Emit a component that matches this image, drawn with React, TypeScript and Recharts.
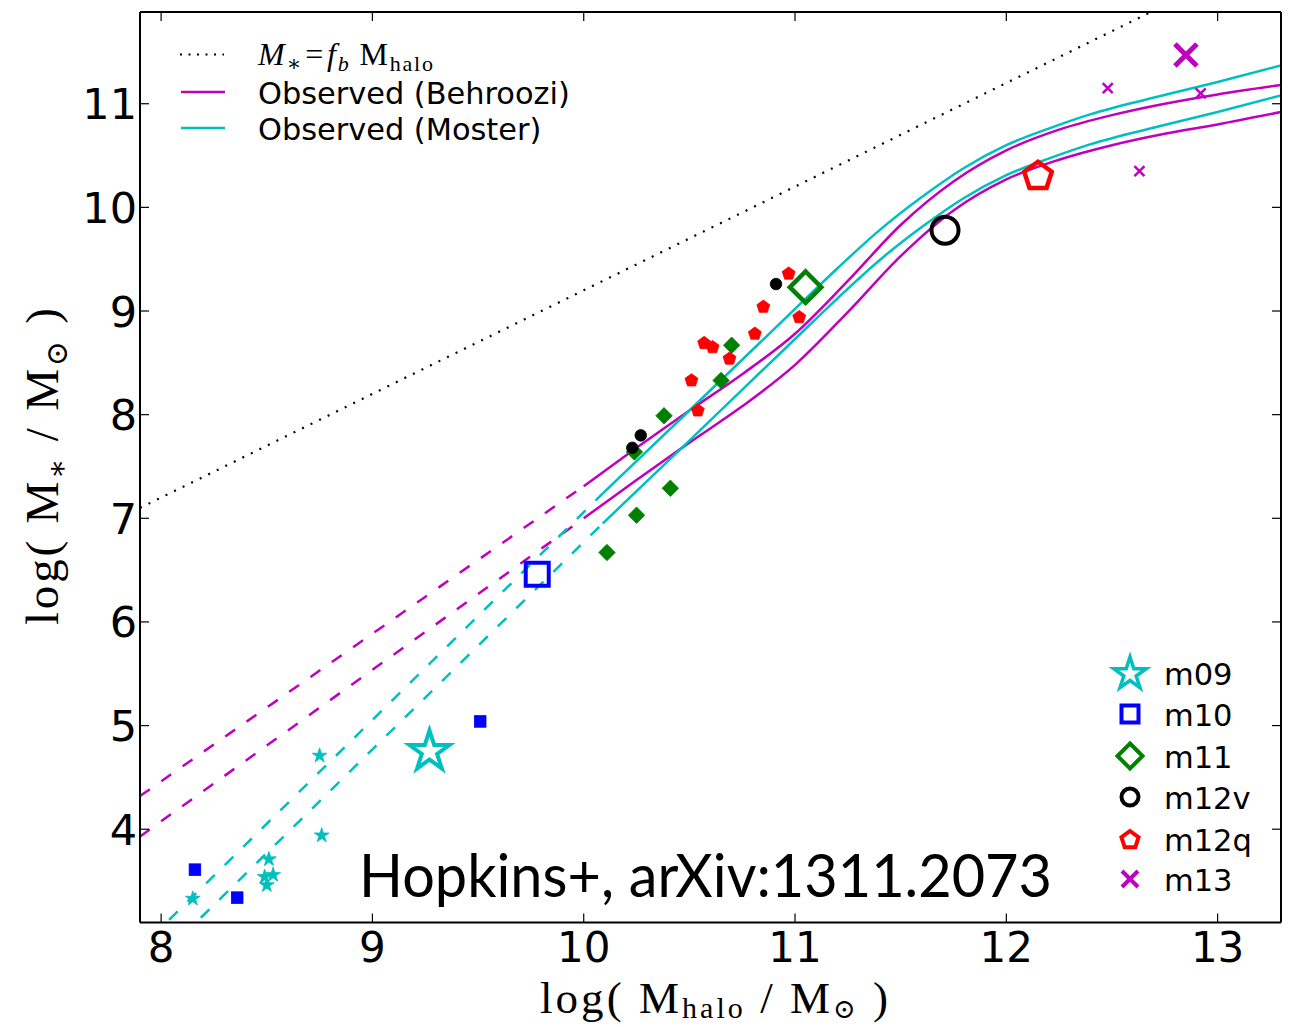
import React from 'react';
import { ComposedChart, Line, Scatter, XAxis, YAxis } from 'recharts';

// ---------- data ----------
const X_DOMAIN: [number, number] = [7.9, 13.3];
const Y_DOMAIN: [number, number] = [3.1, 11.885];
const X_TICKS = [8, 9, 10, 11, 12, 13];
const Y_TICKS = [4, 5, 6, 7, 8, 9, 10, 11];

const baryonLine = [
  { x: 7.9, y: 7.1 },
  { x: 12.7, y: 11.9 },
];

const behrooziUpperDashed = [
  { x: 7.9, y: 4.32 },
  { x: 10.0, y: 7.31 },
];
const behrooziLowerDashed = [
  { x: 7.9, y: 3.93 },
  { x: 10.0, y: 7.0 },
];
const behrooziUpper = [
  { x: 10.0, y: 7.31 }, { x: 10.25, y: 7.68 }, { x: 10.5, y: 8.04 }, { x: 10.75, y: 8.39 },
  { x: 11.0, y: 8.78 }, { x: 11.25, y: 9.29 }, { x: 11.5, y: 9.83 }, { x: 11.75, y: 10.25 },
  { x: 12.0, y: 10.55 }, { x: 12.25, y: 10.75 }, { x: 12.5, y: 10.89 }, { x: 12.75, y: 11.0 },
  { x: 13.0, y: 11.09 }, { x: 13.3, y: 11.18 },
];
const behrooziLower = [
  { x: 10.0, y: 7.0 }, { x: 10.25, y: 7.37 }, { x: 10.5, y: 7.73 }, { x: 10.75, y: 8.08 },
  { x: 11.0, y: 8.48 }, { x: 11.25, y: 8.99 }, { x: 11.5, y: 9.53 }, { x: 11.75, y: 9.97 },
  { x: 12.0, y: 10.27 }, { x: 12.25, y: 10.46 }, { x: 12.5, y: 10.6 }, { x: 12.75, y: 10.71 },
  { x: 13.0, y: 10.8 }, { x: 13.3, y: 10.92 },
];

const mosterUpperDashed = [
  { x: 7.95, y: 2.95 },
  { x: 10.09, y: 7.24 },
];
const mosterLowerDashed = [
  { x: 8.1, y: 2.97 },
  { x: 10.09, y: 6.95 },
];
const mosterUpper = [
  { x: 10.09, y: 7.24 }, { x: 10.5, y: 8.04 }, { x: 11.0, y: 9.02 }, { x: 11.2, y: 9.41 },
  { x: 11.4, y: 9.78 }, { x: 11.6, y: 10.1 }, { x: 11.8, y: 10.38 }, { x: 12.0, y: 10.6 },
  { x: 12.2, y: 10.76 }, { x: 12.4, y: 10.9 }, { x: 12.7, y: 11.06 }, { x: 13.0, y: 11.21 },
  { x: 13.3, y: 11.37 },
];
const mosterLower = [
  { x: 10.09, y: 6.95 }, { x: 10.5, y: 7.75 }, { x: 11.0, y: 8.73 }, { x: 11.2, y: 9.12 },
  { x: 11.4, y: 9.49 }, { x: 11.6, y: 9.81 }, { x: 11.8, y: 10.09 }, { x: 12.0, y: 10.31 },
  { x: 12.2, y: 10.47 }, { x: 12.4, y: 10.61 }, { x: 12.7, y: 10.77 }, { x: 13.0, y: 10.92 },
  { x: 13.3, y: 11.08 },
];

const m09Small = [
  { x: 8.75, y: 4.71 }, { x: 8.76, y: 3.94 }, { x: 8.51, y: 3.71 }, { x: 8.53, y: 3.56 },
  { x: 8.49, y: 3.54 }, { x: 8.5, y: 3.46 }, { x: 8.15, y: 3.33 },
];
const m10Small = [
  { x: 8.16, y: 3.61 }, { x: 8.36, y: 3.34 }, { x: 9.51, y: 5.04 },
];
const m11Small = [
  { x: 10.11, y: 6.67 }, { x: 10.25, y: 7.03 }, { x: 10.41, y: 7.29 }, { x: 10.24, y: 7.64 },
  { x: 10.38, y: 7.99 }, { x: 10.65, y: 8.33 }, { x: 10.7, y: 8.67 },
];
const m12vSmall = [
  { x: 10.23, y: 7.68 }, { x: 10.27, y: 7.8 }, { x: 10.91, y: 9.26 },
];
const m12qSmall = [
  { x: 10.97, y: 9.36 }, { x: 10.85, y: 9.04 }, { x: 11.02, y: 8.94 }, { x: 10.81, y: 8.78 },
  { x: 10.57, y: 8.69 }, { x: 10.61, y: 8.65 }, { x: 10.69, y: 8.54 }, { x: 10.51, y: 8.33 },
  { x: 10.54, y: 8.04 },
];
const m13Small = [
  { x: 12.48, y: 11.15 }, { x: 12.92, y: 11.1 }, { x: 12.63, y: 10.35 },
];

const m09Main = [{ x: 9.27, y: 4.75 }];
const m10Main = [{ x: 9.78, y: 6.46 }];
const m11Main = [{ x: 11.05, y: 9.23 }];
const m12vMain = [{ x: 11.71, y: 9.78 }];
const m12qMain = [{ x: 12.15, y: 10.3 }];
const m13Main = [{ x: 12.85, y: 11.47 }];

const SIM_LABELS = ['m09', 'm10', 'm11', 'm12v', 'm12q', 'm13'];
const LINE_LABELS = ['Observed (Behroozi)', 'Observed (Moster)'];
const TITLE = 'Hopkins+, arXiv:1311.2073';

// ---------- style ----------
const MAG = '#bf00bf';
const CYAN = '#00bfbf';
const GREEN = '#008000';
const BLUE = '#0000ff';
const RED = '#ff0000';
const BLACK = '#000000';

const W = 1287;
const H = 1019;
const TICK_FONT = "'DejaVu Sans', sans-serif";
const SERIF = "'Liberation Serif', 'DejaVu Serif', serif";

// ---------- marker geometry ----------
const starPts = (cx: number, cy: number, R: number) => {
  const r = R * 0.381966;
  const p: string[] = [];
  for (let i = 0; i < 10; i++) {
    const a = -Math.PI / 2 + (i * Math.PI) / 5;
    const rr = i % 2 === 0 ? R : r;
    p.push(`${cx + rr * Math.cos(a)},${cy + rr * Math.sin(a)}`);
  }
  return p.join(' ');
};
const pentPts = (cx: number, cy: number, R: number) => {
  const p: string[] = [];
  for (let i = 0; i < 5; i++) {
    const a = -Math.PI / 2 + (i * 2 * Math.PI) / 5;
    p.push(`${cx + R * Math.cos(a)},${cy + R * Math.sin(a)}`);
  }
  return p.join(' ');
};
const diamondPts = (cx: number, cy: number, h: number) =>
  `${cx},${cy - h} ${cx + h},${cy} ${cx},${cy + h} ${cx - h},${cy}`;

type MP = { cx: number; cy: number; size: number; color: string; fill?: string; sw?: number };

const StarM = ({ cx, cy, size, color, fill, sw = 0.8 }: MP) => (
  <polygon points={starPts(cx, cy, size)} fill={fill ?? color} stroke={color} strokeWidth={sw} strokeLinejoin="miter" />
);
const SquareM = ({ cx, cy, size, color, fill, sw = 0.8 }: MP) => (
  <rect x={cx - size} y={cy - size} width={2 * size} height={2 * size} fill={fill ?? color} stroke={color} strokeWidth={sw} />
);
const DiamondM = ({ cx, cy, size, color, fill, sw = 0.8 }: MP) => (
  <polygon points={diamondPts(cx, cy, size)} fill={fill ?? color} stroke={color} strokeWidth={sw} />
);
const CircleM = ({ cx, cy, size, color, fill, sw = 0.8 }: MP) => (
  <circle cx={cx} cy={cy} r={size} fill={fill ?? color} stroke={color} strokeWidth={sw} />
);
const PentM = ({ cx, cy, size, color, fill, sw = 0.8 }: MP) => (
  <polygon points={pentPts(cx, cy, size)} fill={fill ?? color} stroke={color} strokeWidth={sw} strokeLinejoin="miter" />
);
const XM = ({ cx, cy, size, color, sw = 2.5 }: MP) => (
  <g stroke={color} strokeWidth={sw} strokeLinecap="butt">
    <line x1={cx - size} y1={cy - size} x2={cx + size} y2={cy + size} />
    <line x1={cx - size} y1={cy + size} x2={cx + size} y2={cy - size} />
  </g>
);

// ---------- ticks ----------
const BottomTick = (props: any) => {
  const { x, y, payload } = props;
  return (
    <g>
      <line x1={x} y1={y} x2={x} y2={y - 9} stroke={BLACK} strokeWidth={1.2} />
      <text x={x} y={y + 39} textAnchor="middle" fontFamily={TICK_FONT} fontSize={42} fill={BLACK}>
        {payload.value}
      </text>
    </g>
  );
};
const TopTick = (props: any) => {
  const { x, y } = props;
  return <line x1={x} y1={y} x2={x} y2={y + 9} stroke={BLACK} strokeWidth={1.2} />;
};
const LeftTick = (props: any) => {
  const { x, y, payload } = props;
  return (
    <g>
      <line x1={x} y1={y} x2={x + 9} y2={y} stroke={BLACK} strokeWidth={1.2} />
      <text x={x - 3} y={y + 15.5} textAnchor="end" fontFamily={TICK_FONT} fontSize={43} fill={BLACK}>
        {payload.value}
      </text>
    </g>
  );
};
const RightTick = (props: any) => {
  const { x, y } = props;
  return <line x1={x} y1={y} x2={x - 9} y2={y} stroke={BLACK} strokeWidth={1.2} />;
};

const AXIS_LINE = { stroke: BLACK, strokeWidth: 2 };

// ---------- overlay (legends, annotation, axis titles) ----------
const Overlay = () => {
  const o = 8; // page offset
  const legRows = [685, 725.5, 767.5, 808.5, 850.5, 891];
  const mx = 1130 - o;
  const tx = 1164 - o;
  const markers = [
    <StarM key="a" cx={mx} cy={674 - o} size={17} color={CYAN} fill="none" sw={3.5} />,
    <SquareM key="b" cx={mx} cy={714 - o} size={8.5} color={BLUE} fill="none" sw={4} />,
    <DiamondM key="c" cx={mx} cy={756 - o} size={12.5} color={GREEN} fill="none" sw={4} />,
    <CircleM key="d" cx={mx} cy={797 - o} size={8.5} color={BLACK} fill="none" sw={4} />,
    <PentM key="e" cx={mx} cy={840 - o} size={9} color={RED} fill="none" sw={4} />,
    <XM key="f" cx={mx} cy={879 - o} size={8} color={MAG} sw={4} />,
  ];
  return (
    <svg
      width={W}
      height={H}
      style={{ position: 'absolute', left: 0, top: 0, pointerEvents: 'none' }}
    >
      {/* top-left legend */}
      <line x1={180 - o} y1={54.5 - o} x2={224 - o} y2={54.5 - o} stroke={BLACK} strokeWidth={2.2} strokeDasharray="2 6.5" />
      <text x={258 - o} y={65 - o} fontFamily={SERIF} fontSize={32} fill={BLACK} textLength={175} lengthAdjust="spacing">
        <tspan fontStyle="italic">M</tspan>
        <tspan fontSize={22} dy={6}>∗</tspan>
        <tspan dy={-6} dx={2}>=</tspan>
        <tspan fontStyle="italic" dx={2}>f</tspan>
        <tspan fontSize={22} fontStyle="italic" dy={6}>b</tspan>
        <tspan dy={-6} dx={9}>M</tspan>
        <tspan fontSize={22} dy={6}>halo</tspan>
      </text>
      <line x1={181 - o} y1={92 - o} x2={225 - o} y2={92 - o} stroke={MAG} strokeWidth={2.5} />
      <text x={258 - o} y={104 - o} fontFamily={TICK_FONT} fontSize={30.4} fill={BLACK}>{LINE_LABELS[0]}</text>
      <line x1={181 - o} y1={128 - o} x2={225 - o} y2={128 - o} stroke={CYAN} strokeWidth={2.5} />
      <text x={258 - o} y={140 - o} fontFamily={TICK_FONT} fontSize={30.4} fill={BLACK}>{LINE_LABELS[1]}</text>

      {/* bottom-right legend */}
      {markers}
      {SIM_LABELS.map((s, i) => (
        <text key={s} x={tx} y={legRows[i] - o} fontFamily={TICK_FONT} fontSize={30.5} fill={BLACK}>{s}</text>
      ))}

      {/* annotation */}
      <text x={359 - o} y={897 - o} fontFamily="Lato, 'Open Sans', sans-serif" fontSize={60} fill={BLACK}
        textLength={693} lengthAdjust="spacingAndGlyphs">{TITLE}</text>

      {/* x label */}
      <text x={540 - o} y={1013 - o} fontFamily={SERIF} fontSize={45} fill={BLACK}
        textLength={348} lengthAdjust="spacing">
        <tspan>log( M</tspan>
        <tspan fontSize={30} dy={5}>halo</tspan>
        <tspan dy={-5}> / M</tspan>
        <tspan fontSize={27} dy={5}>⊙</tspan>
        <tspan dy={-5}> )</tspan>
      </text>
      {/* y label */}
      <text transform={`translate(${58 - o}, ${625 - o}) rotate(-90)`} fontFamily={SERIF} fontSize={47} fill={BLACK}
        textLength={317} lengthAdjust="spacing">
        <tspan>log( M</tspan>
        <tspan fontSize={30} dy={9}>∗</tspan>
        <tspan dy={-9}> / M</tspan>
        <tspan fontSize={30} dy={9}>⊙</tspan>
        <tspan dy={-9}> )</tspan>
      </text>
    </svg>
  );
};

const lineCommon = { dataKey: 'y', dot: false, activeDot: false, isAnimationActive: false, xAxisId: 'b', yAxisId: 'l' } as const;
const scatCommon = { dataKey: 'y', isAnimationActive: false, xAxisId: 'b', yAxisId: 'l' } as const;

export default function App() {
  return (
    <div style={{ position: 'relative', width: W, height: H }}>
      <ComposedChart width={W} height={H} margin={{ top: 3, right: 13, bottom: 0, left: 0 }}>
        <XAxis xAxisId="b" type="number" dataKey="x" domain={X_DOMAIN} ticks={X_TICKS} allowDataOverflow
          orientation="bottom" height={104.5} tickSize={0} tickMargin={0} interval={0}
          axisLine={AXIS_LINE} tickLine={false} tick={<BottomTick />} />
        <XAxis xAxisId="t" type="number" dataKey="x" domain={X_DOMAIN} ticks={X_TICKS} allowDataOverflow
          orientation="top" height={1} tickSize={0} tickMargin={0} interval={0}
          axisLine={AXIS_LINE} tickLine={false} tick={<TopTick />} />
        <YAxis yAxisId="l" type="number" dataKey="y" domain={Y_DOMAIN} ticks={Y_TICKS} allowDataOverflow
          orientation="left" width={132} tickSize={0} tickMargin={0} interval={0}
          axisLine={AXIS_LINE} tickLine={false} tick={<LeftTick />} />
        <YAxis yAxisId="r" type="number" dataKey="y" domain={Y_DOMAIN} ticks={Y_TICKS} allowDataOverflow
          orientation="right" width={1} tickSize={0} tickMargin={0} interval={0}
          axisLine={AXIS_LINE} tickLine={false} tick={<RightTick />} />

        {/* small simulation points */}
        <Scatter {...scatCommon} data={m09Small} shape={(p: any) => <StarM cx={p.cx} cy={p.cy} size={7.8} color={CYAN} />} />
        <Scatter {...scatCommon} data={m10Small} shape={(p: any) => <SquareM cx={p.cx} cy={p.cy} size={5.8} color={BLUE} />} />
        <Scatter {...scatCommon} data={m11Small} shape={(p: any) => <DiamondM cx={p.cx} cy={p.cy} size={8.2} color={GREEN} />} />
        <Scatter {...scatCommon} data={m12vSmall} shape={(p: any) => <CircleM cx={p.cx} cy={p.cy} size={5.8} color={BLACK} />} />
        <Scatter {...scatCommon} data={m12qSmall} shape={(p: any) => <PentM cx={p.cx} cy={p.cy} size={6.8} color={RED} />} />
        <Scatter {...scatCommon} data={m13Small} shape={(p: any) => <XM cx={p.cx} cy={p.cy} size={5} color={MAG} sw={2.5} />} />

        {/* relations */}
        <Line {...lineCommon} data={baryonLine} type="linear" stroke={BLACK} strokeWidth={2.2} strokeDasharray="2 7.5" />
        <Line {...lineCommon} data={behrooziUpperDashed} type="linear" stroke={MAG} strokeWidth={2.5} strokeDasharray="12 14" />
        <Line {...lineCommon} data={behrooziLowerDashed} type="linear" stroke={MAG} strokeWidth={2.5} strokeDasharray="12 14" />
        <Line {...lineCommon} data={mosterUpperDashed} type="linear" stroke={CYAN} strokeWidth={2.5} strokeDasharray="12 14" />
        <Line {...lineCommon} data={mosterLowerDashed} type="linear" stroke={CYAN} strokeWidth={2.5} strokeDasharray="12 14" />
        <Line {...lineCommon} data={behrooziUpper} type="monotone" stroke={MAG} strokeWidth={2.5} />
        <Line {...lineCommon} data={behrooziLower} type="monotone" stroke={MAG} strokeWidth={2.5} />
        <Line {...lineCommon} data={mosterUpper} type="monotone" stroke={CYAN} strokeWidth={2.5} />
        <Line {...lineCommon} data={mosterLower} type="monotone" stroke={CYAN} strokeWidth={2.5} />

        {/* main simulation points */}
        <Scatter {...scatCommon} data={m09Main} shape={(p: any) => <StarM cx={p.cx} cy={p.cy} size={21} color={CYAN} fill="none" sw={4} />} />
        <Scatter {...scatCommon} data={m10Main} shape={(p: any) => <SquareM cx={p.cx} cy={p.cy} size={11.5} color={BLUE} fill="none" sw={4} />} />
        <Scatter {...scatCommon} data={m11Main} shape={(p: any) => <DiamondM cx={p.cx} cy={p.cy} size={15.7} color={GREEN} fill="none" sw={4.5} />} />
        <Scatter {...scatCommon} data={m12vMain} shape={(p: any) => <CircleM cx={p.cx} cy={p.cy} size={13.5} color={BLACK} fill="none" sw={4} />} />
        <Scatter {...scatCommon} data={m12qMain} shape={(p: any) => <PentM cx={p.cx} cy={p.cy} size={14.5} color={RED} fill="none" sw={4.5} />} />
        <Scatter {...scatCommon} data={m13Main} shape={(p: any) => <XM cx={p.cx} cy={p.cy} size={11} color={MAG} sw={5} />} />
      </ComposedChart>
      <Overlay />
    </div>
  );
}
